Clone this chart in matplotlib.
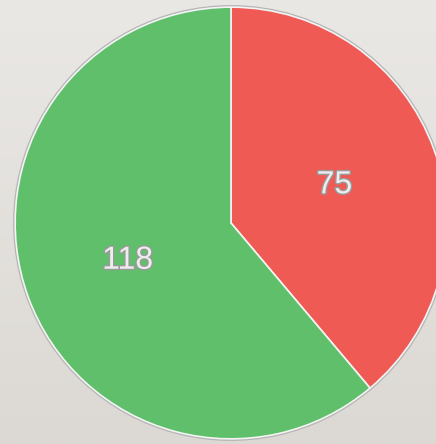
import numpy as np
import matplotlib
matplotlib.use("Agg")
import matplotlib.pyplot as plt
import matplotlib.patheffects as pe

# dados do grafico
categorias = ["A", "B"]
valores = [75, 118]
cores = ["#f05a55", "#5fbf6a"]

fig = plt.figure(figsize=(4.36, 4.44), dpi=100)

# fundo com leve degrade
bg = fig.add_axes([0, 0, 1, 1])
grad = np.linspace(0, 1, 256).reshape(-1, 1)
bg.imshow(grad, aspect="auto", cmap=matplotlib.colors.LinearSegmentedColormap.from_list(
    "bg", ["#eae8e5", "#dcd9d4"]), extent=[0, 1, 0, 1], origin="upper")
bg.axis("off")

# eixo da pizza (sai um pouco pela direita)
ax = fig.add_axes([13 / 436, 3 / 444, 436 / 436, 436 / 444])

# contorno cinza por baixo
ax.pie(valores, colors=cores, startangle=90, counterclock=False, radius=1,
       wedgeprops=dict(edgecolor="#b5b5b5", linewidth=3))
_, textos = ax.pie(valores, colors=cores, startangle=90, counterclock=False, radius=1,
                   labels=[str(v) for v in valores], labeldistance=0.51,
                   wedgeprops=dict(edgecolor="#f4f4f4", linewidth=1.2))
ax.set_xlim(-1.01, 1.01)
ax.set_ylim(-1.01, 1.01)
ax.set_aspect("equal")
ax.axis("off")

for t in textos:
    t.set_ha("center")
    t.set_va("center")
    t.set_fontsize(23)
    t.set_family(["Liberation Sans Narrow", "Liberation Sans", "DejaVu Sans"])
    t.set_color("#eeeeee")
    t.set_path_effects([pe.Stroke(linewidth=2, foreground="#9a9a9a"), pe.Normal()])

fig.savefig("out.png", dpi=100)
plt.close(fig)
